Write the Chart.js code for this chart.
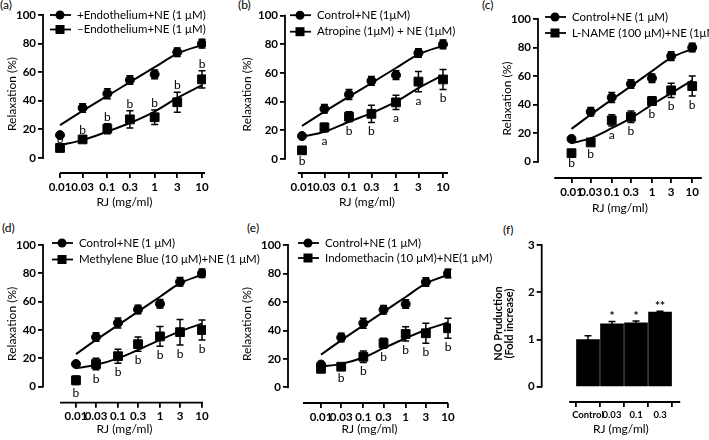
<!DOCTYPE html>
<html>
<head>
<meta charset="utf-8">
<script src="https://cdn.jsdelivr.net/npm/chart.js@4.4.0/dist/chart.umd.min.js"></script>
<style>
  body { margin: 0; width: 709px; height: 440px; position: relative; overflow: hidden; background: #fff; }
  canvas { position: absolute; }
  .tag { position: absolute; font: 12px Lato, sans-serif; color: #000; line-height: 14px; }
</style>
</head>
<body>
<div class="tag" style="left:0px;top:-2px">(a)</div>
<div class="tag" style="left:238px;top:-2px">(b)</div>
<div class="tag" style="left:482px;top:-2px">(c)</div>
<div class="tag" style="left:2px;top:221px">(d)</div>
<div class="tag" style="left:247px;top:221px">(e)</div>
<div class="tag" style="left:503px;top:223px">(f)</div>
<script>
// RJ doses (mg/ml)
const doses = [0.01, 0.03, 0.1, 0.3, 1, 3, 10];
const doseLabels = ['0.01', '0.03', '0.1', '0.3', '1', '3', '10'];
const relaxTicks = [0, 20, 40, 60, 80, 100];

// control + NE, same in every panel
const control = [16, 35, 45, 54.5, 58.5, 74, 80];
const controlErr = [1, 3, 3.5, 3, 3, 3, 3];
const controlFit = [23, 33, 43.5, 53, 63.5, 73, 79];

// (a) without endothelium
const noEndo = [7, 13, 20.5, 27, 28.5, 39, 55];
const noEndoErr = [1, 1.5, 3.5, 6, 5, 7, 6];
const noEndoFit = [9, 12.5, 18.5, 24.5, 32.5, 42, 51];
const noEndoNotes = ['b', 'b', 'b', 'b', 'b', 'b', 'b'];

// (b) atropine
const atropine = [6, 22, 29.5, 31.5, 39.5, 54, 55.5];
const atropineErr = [1, 3, 3.5, 6, 5, 7, 7];
const atropineFit = [15.5, 19, 26, 32, 40, 49.5, 58.5];
const atropineNotes = ['b', 'a', 'b', 'b', 'a', 'a', 'b'];

// (c) L-NAME
const lname = [6, 13.5, 29, 31.5, 42.5, 50, 53];
const lnameErr = [1, 2, 4, 4, 3, 5, 7];
const lnameFit = [13, 16.5, 23.5, 30.5, 40, 48, 57];
const lnameNotes = ['b', 'b', 'a', 'b', 'b', 'b', 'b'];

// (d) methylene blue
const mblue = [4.5, 16, 21.5, 30, 35.5, 38.5, 40];
const mblueErr = [3, 4, 5, 5, 7, 9, 7];
const mblueFit = [13, 15.5, 20, 26, 33, 39, 44.5];
const mblueNotes = ['b', 'b', 'b', 'b', 'b', 'b', 'b'];

// (e) indomethacin
const indo = [13, 14.5, 21.5, 31, 37.5, 38, 41.5];
const indoErr = [2, 2, 4, 3.5, 5, 7, 7];
const indoFit = [14.5, 16.5, 21, 27.5, 34.5, 40.5, 45.5];
const indoNotes = ['', 'b', 'b', 'b', 'b', 'b', 'b'];

// (f) NO production
const noLabels = ['Control', '0.03', '0.1', '0.3'];
const noValues = [1.0, 1.33, 1.35, 1.58];
const noErr = [0.08, 0.05, 0.04, 0.02];
const noStars = ['', '*', '*', '**'];
const noTicks = [0, 1, 2, 3];

Chart.defaults.font.family = 'Lato, "Liberation Sans", sans-serif';
Chart.defaults.color = '#000';

// Prism-style axes, error bars, letters and legend
const prism = {
  id: 'prism',
  afterDatasetsDraw(chart, args, o) {
    const { ctx, chartArea: ca, scales: { x, y } } = chart;
    ctx.save();
    ctx.strokeStyle = '#000';
    ctx.fillStyle = '#000';
    ctx.lineWidth = 1.8;
    ctx.beginPath();
    ctx.moveTo(ca.left, y.getPixelForValue(0) + 0.9);
    ctx.lineTo(ca.left, y.getPixelForValue(o.yTop) - 0.9);
    ctx.moveTo(x.getPixelForValue(o.xFrom), ca.bottom);
    ctx.lineTo(x.getPixelForValue(o.xTo), ca.bottom);
    ctx.stroke();

    ctx.lineWidth = 1.5;
    chart.data.datasets.forEach((ds, di) => {
      if (!ds.errors) return;
      chart.getDatasetMeta(di).data.forEach((el, i) => {
        const v = ds.data[i].y, e = ds.errors[i];
        const top = y.getPixelForValue(v + e), bot = y.getPixelForValue(v - e);
        ctx.beginPath();
        ctx.moveTo(el.x, top); ctx.lineTo(el.x, bot);
        ctx.moveTo(el.x - 3.5, top); ctx.lineTo(el.x + 3.5, top);
        ctx.moveTo(el.x - 3.5, bot); ctx.lineTo(el.x + 3.5, bot);
        ctx.stroke();
        const note = ds.notes && ds.notes[i];
        if (note) {
          ctx.font = ds.noteFont || '12px Lato';
          ctx.textAlign = 'center';
          ctx.textBaseline = 'middle';
          ctx.fillText(note, el.x, ds.noteSide === 'above' ? top - ds.noteGap : bot + ds.noteGap);
        }
      });
    });

    if (o.legend) {
      const lg = o.legend;
      ctx.lineWidth = 1.8;
      lg.items.forEach((it, k) => {
        const yy = ca.top + lg.dy + k * lg.step;
        const x0 = ca.left + lg.dx;
        ctx.beginPath();
        ctx.moveTo(x0, yy); ctx.lineTo(x0 + 21, yy);
        ctx.stroke();
        if (it.style === 'circle') {
          ctx.beginPath(); ctx.arc(x0 + 10, yy, 4.5, 0, Math.PI * 2); ctx.fill();
        } else {
          ctx.fillRect(x0 + 5.5, yy - 4.5, 9, 9);
        }
        ctx.font = '11.5px Lato';
        ctx.textAlign = 'left';
        ctx.textBaseline = 'middle';
        ctx.fillText(it.text, x0 + 27, yy);
      });
    }
    ctx.restore();
  }
};
Chart.register(prism);

function addCanvas(box) {
  const cv = document.createElement('canvas');
  cv.width = box[2]; cv.height = box[3];
  cv.style.left = box[0] + 'px'; cv.style.top = box[1] + 'px';
  cv.style.width = box[2] + 'px'; cv.style.height = box[3] + 'px';
  document.body.appendChild(cv);
  return cv;
}

const pts = vals => doses.map((d, i) => ({ x: d, y: vals[i] }));
const axisGrid = { drawOnChartArea: false, drawTicks: true, tickLength: 5, color: '#000', lineWidth: 1.8 };
const tickFont = { size: 11.5, weight: 'bold' };
const titleFont = { size: 12, lineHeight: 1.2 };

function curvePanel(p) {
  const cv = addCanvas(p.box);
  new Chart(cv, {
    type: 'line',
    data: {
      datasets: [
        { data: pts(control), errors: controlErr, showLine: false, pointStyle: 'circle', pointRadius: 4.5,
          backgroundColor: '#000', borderColor: '#000' },
        { data: pts(controlFit), pointRadius: 0, borderWidth: 2, borderColor: '#000', cubicInterpolationMode: 'monotone' },
        { data: pts(p.treat), errors: p.err, notes: p.notes, noteSide: p.side, noteGap: p.side === 'above' ? 7 : 9,
          showLine: false, pointStyle: 'rect', pointRadius: 6.2, backgroundColor: '#000', borderColor: '#000' },
        { data: pts(p.fit), pointRadius: 0, borderWidth: 2, borderColor: '#000', cubicInterpolationMode: 'monotone' }
      ]
    },
    options: {
      responsive: false, animation: false, devicePixelRatio: 1,
      layout: { padding: { left: p.pad[0], top: p.pad[1], right: p.pad[2], bottom: p.pad[3] } },
      plugins: {
        legend: { display: false }, tooltip: { enabled: false },
        prism: { yTop: 100, xFrom: p.xFrom, xTo: p.xTo,
                 legend: { dx: p.lg[0], dy: p.lg[1], step: p.lg[2],
                           items: [{ text: p.labels[0], style: 'circle' }, { text: p.labels[1], style: 'rect' }] } }
      },
      scales: {
        x: {
          type: 'logarithmic', min: p.xMin, max: p.xMax,
          afterBuildTicks: s => { s.ticks = doses.map(v => ({ value: v })); },
          afterFit: s => { s.height = p.xHeight; },
          ticks: { autoSkip: false, maxRotation: 0, padding: 2, font: tickFont, callback: (v, i) => doseLabels[i] },
          grid: axisGrid, border: { display: false },
          title: { display: true, text: 'RJ (mg/ml)', padding: 0, font: titleFont }
        },
        y: {
          min: p.yMin, max: 100,
          afterBuildTicks: s => { s.ticks = relaxTicks.map(v => ({ value: v })); },
          afterFit: s => { s.width = p.yWidth; },
          ticks: { padding: 2, font: tickFont },
          grid: axisGrid, border: { display: false },
          title: { display: true, text: 'Relaxation (%)', padding: 0, font: titleFont }
        }
      }
    }
  });
}

curvePanel({ box: [0, 0, 235, 220], pad: [4.8, 15, 29, 10.8], yWidth: 38.2, xHeight: 36.2,
  xMin: 0.00437, xMax: 12.15, yMin: -10.5, xFrom: 0.01, xTo: 11.6, lg: [7, 0, 14.5],
  labels: ['+Endothelium+NE (1 \u03bcM)', '\u2013Endothelium+NE (1 \u03bcM)'],
  treat: noEndo, err: noEndoErr, fit: noEndoFit, notes: noEndoNotes, side: 'above' });

curvePanel({ box: [235, 0, 235, 220], pad: [4.8, 15.7, 21, 10.8], yWidth: 45.2, xHeight: 36.2,
  xMin: 0.00435, xMax: 13.4, yMin: -9.8, xFrom: 0.0082, xTo: 12.8, lg: [5, -0.5, 16.5],
  labels: ['Control+NE (1\u03bcM)', 'Atropine (1\u03bcM) + NE (1\u03bcM)'],
  treat: atropine, err: atropineErr, fit: atropineFit, notes: atropineNotes, side: 'below' });

curvePanel({ box: [470, 0, 239, 220], pad: [29.5, 19, 0, 4.8], yWidth: 38.5, xHeight: 37.2,
  xMin: 0.00147, xMax: 17.3, yMin: -11.4, xFrom: 0.00373, xTo: 17.3, lg: [7, -2, 16],
  labels: ['Control+NE (1 \u03bcM)', 'L-NAME (100 \u03bcM)+NE (1\u03bcM)'],
  treat: lname, err: lnameErr, fit: lnameFit, notes: lnameNotes, side: 'below' });

curvePanel({ box: [0, 220, 280, 220], pad: [4.8, 25, 74, 3.8], yWidth: 38.2, xHeight: 33.5,
  xMin: 0.00164, xMax: 12.45, yMin: -11.3, xFrom: 0.00416, xTo: 10.56, lg: [9, -2, 16.5],
  labels: ['Control+NE (1 \u03bcM)', 'Methylene Blue (10 \u03bcM)+NE (1 \u03bcM)'],
  treat: mblue, err: mblueErr, fit: mblueFit, notes: mblueNotes, side: 'below' });

curvePanel({ box: [235, 220, 275, 220], pad: [4.8, 25, 59, 3.8], yWidth: 48.2, xHeight: 33.2,
  xMin: 0.00166, xMax: 11.77, yMin: -11, xFrom: 0.00375, xTo: 10, lg: [10, -2, 15],
  labels: ['Control+NE (1 \u03bcM)', 'Indomethacin (10 \u03bcM)+NE(1 \u03bcM)'],
  treat: indo, err: indoErr, fit: indoFit, notes: indoNotes, side: 'below' });

// (f) bar chart
const cvF = addCanvas([470, 220, 239, 220]);
new Chart(cvF, {
  type: 'bar',
  data: {
    datasets: [{
      data: noLabels.map((_, i) => ({ x: i, y: noValues[i] })),
      errors: noErr, notes: noStars, noteSide: 'above', noteGap: 5, noteFont: 'bold 12px Lato',
      backgroundColor: '#000', borderColor: '#000', barThickness: 23
    }]
  },
  options: {
    responsive: false, animation: false, devicePixelRatio: 1,
    layout: { padding: { left: 22.5, top: 25, right: 9, bottom: 3.8 } },
    plugins: { legend: { display: false }, tooltip: { enabled: false }, prism: { yTop: 3, xFrom: -0.78, xTo: 3.84 } },
    scales: {
      x: {
        type: 'linear', min: -1.103, max: 3.84,
        afterBuildTicks: s => { s.ticks = noLabels.map((_, i) => ({ value: i })); },
        afterFit: s => { s.height = 34.2; },
        ticks: { autoSkip: false, maxRotation: 0, padding: 2, font: { size: 9.5, weight: 'bold' }, callback: (v, i) => noLabels[i] },
        grid: axisGrid, border: { display: false },
        title: { display: true, text: 'RJ (mg/ml)', padding: 0, font: titleFont }
      },
      y: {
        min: -0.324, max: 3,
        afterBuildTicks: s => { s.ticks = noTicks.map(v => ({ value: v })); },
        afterFit: s => { s.width = 49.2; },
        ticks: { padding: 2, font: tickFont },
        grid: axisGrid, border: { display: false },
        title: { display: true, text: ['NO Pruduction', '(Fold increase)'], padding: 0,
                 font: { size: 11, weight: 'bold', lineHeight: 1.0 } }
      }
    }
  }
});
</script>
</body>
</html>
